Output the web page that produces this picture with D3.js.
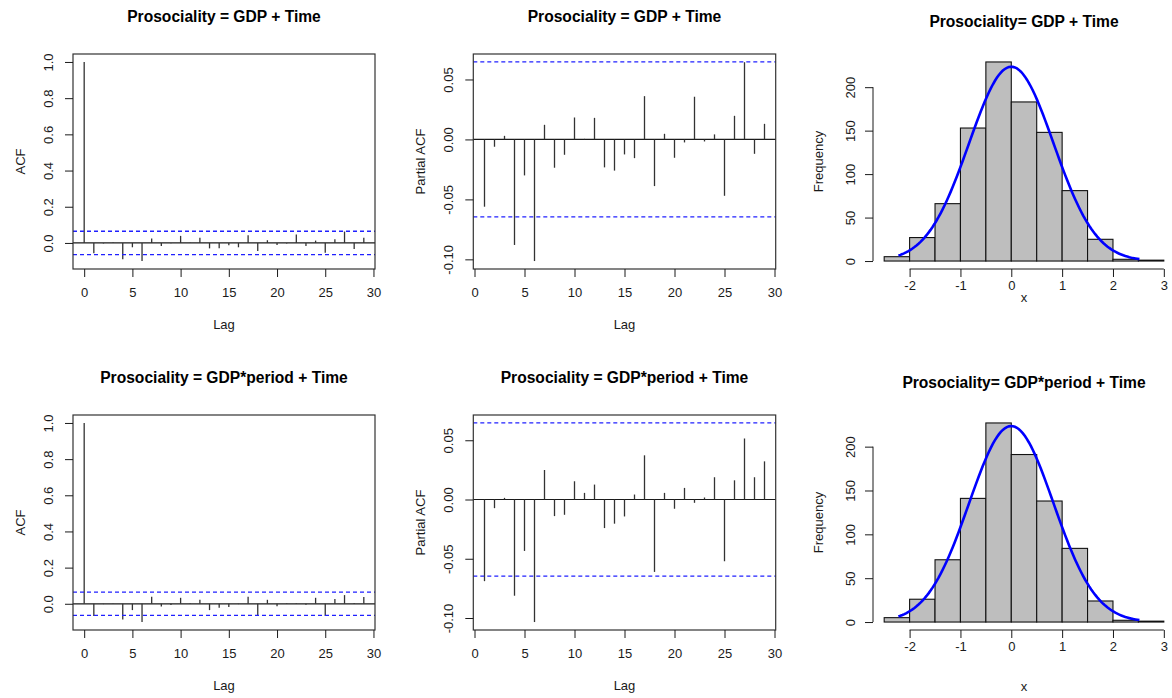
<!DOCTYPE html>
<html>
<head>
<meta charset="utf-8">
<script src="https://cdn.jsdelivr.net/npm/d3@7"></script>
<style>
  html, body { margin: 0; padding: 0; background: #fff; }
  svg { display: block; font-family: "Liberation Sans", Arial, sans-serif; }
</style>
</head>
<body>
<svg id="chart" width="1172" height="698"></svg>
<script>
// ---------------- DATA ----------------
const titlesTop = ["Prosociality = GDP + Time", "Prosociality = GDP + Time", "Prosociality= GDP + Time"];
const titlesBottom = ["Prosociality = GDP*period + Time", "Prosociality = GDP*period + Time", "Prosociality= GDP*period + Time"];

// ACF values, lags 0..29
const acfTop = [1, -0.057, -0.003, 0.003, -0.090, -0.024, -0.100, 0.024, -0.017, -0.002,
  0.039, 0.001, 0.028, -0.030, -0.030, -0.013, -0.024, 0.043, -0.044, 0.015,
  -0.011, -0.003, 0.046, -0.017, 0.013, -0.054, 0.020, 0.063, -0.033, 0.028];
const acfBottom = [1, -0.068, -0.002, 0.002, -0.087, -0.035, -0.101, 0.039, -0.015, -0.007,
  0.033, 0.003, 0.022, -0.035, -0.022, -0.018, -0.002, 0.039, -0.068, 0.022,
  -0.013, 0.003, 0.003, -0.005, 0.033, -0.068, 0.026, 0.048, 0.004, 0.037];

// Partial ACF values, lags 1..29
const pacfTop = [-0.0561, -0.0061, 0.0030, -0.0880, -0.0300, -0.1014, 0.0122, -0.0236, -0.0128, 0.0183,
  0.0005, 0.0180, -0.0233, -0.0260, -0.0125, -0.0156, 0.0361, -0.0389, 0.0047, -0.0153,
  -0.0025, 0.0356, -0.0017, 0.0042, -0.0470, 0.0197, 0.0644, -0.0120, 0.0130];
const pacfBottom = [-0.0689, -0.0073, 0.0014, -0.0812, -0.0434, -0.1034, 0.0249, -0.0140, -0.0129, 0.0154,
  0.0056, 0.0126, -0.0241, -0.0204, -0.0143, 0.0042, 0.0373, -0.0611, 0.0056, -0.0078,
  0.0098, -0.0028, 0.0017, 0.0188, -0.0521, 0.0162, 0.0515, 0.0188, 0.0322];

const confBound = 0.0646;

// Histogram of residuals
const histBreaks = [-2.5, -2, -1.5, -1, -0.5, 0, 0.5, 1, 1.5, 2, 2.5, 3];
const histCountsTop = [5, 27, 66, 153, 229, 183, 148, 81, 25, 2, 1];
const histCountsBottom = [5, 26, 71, 141, 227, 191, 138, 84, 24, 2, 1];
// fitted normal overlay parameters
const normMean = 0.0, normSd = 0.83, normN = 930, curveFrom = -2.22, curveTo = 2.52;

// Tick labels
const lagTicks = [0, 5, 10, 15, 20, 25, 30];
const acfTicks = [0, 0.2, 0.4, 0.6, 0.8, 1.0];
const pacfTicks = [-0.10, -0.05, 0.00, 0.05];
const histXTicks = [-2, -1, 0, 1, 2, 3];
const histYTicks = [0, 50, 100, 150, 200];

// ---------------- LAYOUT ----------------
const svg = d3.select("#chart");
const rows = [{ y0: 54, y1: 269 }, { y0: 415, y1: 630 }];
const cols = [{ x0: 73, x1: 375 }, { x0: 473.3, x1: 775.7 }, { x0: 873, x1: 1175 }];
const ink = "#1a1a1a";
const FS = 13;

const ext = ([a, b]) => [a - (b - a) * 0.04, b + (b - a) * 0.04];

function rotateLeftLabels(axisG, offset) {
  axisG.selectAll(".tick text")
    .attr("x", 0).attr("y", -offset).attr("dy", "0.35em")
    .attr("transform", "rotate(-90)")
    .attr("text-anchor", "middle");
}

function styleAxis(axisG) {
  axisG.selectAll("line").attr("stroke", ink).attr("stroke-width", 1);
  axisG.selectAll("text").attr("fill", ink).style("font-size", FS + "px")
    .style("font-family", "'Liberation Sans', Arial, sans-serif");
}

function drawCorr(values, startLag, box, title, yLabel, yTicks, yFmt) {
  const { x0, x1, y0, y1 } = box;
  const g = svg.append("g");
  const lags = values.map((v, i) => startLag + i);
  const x = d3.scaleLinear().domain(ext([lags[0], lags[lags.length - 1]])).range([x0, x1]);
  const yMin = Math.min(d3.min(values), -confBound);
  const yMax = Math.max(d3.max(values), confBound);
  const y = d3.scaleLinear().domain(ext([yMin, yMax])).range([y1, y0]);

  g.append("line").attr("x1", x0).attr("x2", x1).attr("y1", y(0)).attr("y2", y(0))
    .attr("stroke", ink).attr("stroke-width", 1.2);
  g.selectAll(".bar").data(values).enter().append("line")
    .attr("x1", (d, i) => x(lags[i])).attr("x2", (d, i) => x(lags[i]))
    .attr("y1", y(0)).attr("y2", d => y(d))
    .attr("stroke", "#333").attr("stroke-width", 1.3);
  [confBound, -confBound].forEach(c => {
    g.append("line").attr("x1", x0).attr("x2", x1).attr("y1", y(c)).attr("y2", y(c))
      .attr("stroke", "#2020ff").attr("stroke-width", 1.3).attr("stroke-dasharray", "4,3");
  });
  g.append("rect").attr("x", x0).attr("y", y0).attr("width", x1 - x0).attr("height", y1 - y0)
    .attr("fill", "none").attr("stroke", "#333").attr("stroke-width", 1.2);

  const xa = g.append("g").attr("transform", `translate(0,${y1})`)
    .call(d3.axisBottom(x).tickValues(lagTicks).tickSize(8).tickPadding(11).tickFormat(d3.format("d")));
  xa.select(".domain").remove();
  styleAxis(xa);
  const ya = g.append("g").attr("transform", `translate(${x0},0)`)
    .call(d3.axisLeft(y).tickValues(yTicks).tickSize(8).tickFormat(yFmt));
  ya.select(".domain").remove();
  styleAxis(ya);
  rotateLeftLabels(ya, 24.5);

  g.append("text").attr("x", (x0 + x1) / 2).attr("y", y1 + 55).attr("dy", "0.35em")
    .attr("text-anchor", "middle").attr("fill", ink).style("font-size", FS + "px").text("Lag");
  g.append("text").attr("transform", `translate(${x0 - 53},${(y0 + y1) / 2}) rotate(-90)`)
    .attr("dy", "0.35em").attr("text-anchor", "middle").attr("fill", ink)
    .style("font-size", FS + "px").text(yLabel);
  g.append("text").attr("x", (x0 + x1) / 2).attr("y", y0 - 37).attr("dy", "0.35em")
    .attr("text-anchor", "middle").attr("fill", "#000").style("font-size", "15.6px")
    .style("font-weight", "bold").text(title);
}

function drawHist(counts, box, title, xLabY) {
  const { x0, x1, y0, y1 } = box;
  const g = svg.append("g");
  const x = d3.scaleLinear().domain(ext([histBreaks[0], histBreaks[histBreaks.length - 1]])).range([x0, x1]);
  const y = d3.scaleLinear().domain(ext([0, d3.max(counts)])).range([y1, y0]);

  g.selectAll(".hb").data(counts).enter().append("rect")
    .attr("x", (d, i) => x(histBreaks[i]))
    .attr("width", (d, i) => x(histBreaks[i + 1]) - x(histBreaks[i]))
    .attr("y", d => y(d)).attr("height", d => y(0) - y(d))
    .attr("fill", "#bebebe").attr("stroke", "#111").attr("stroke-width", 1.1);

  const bw = histBreaks[1] - histBreaks[0];
  const nPts = 120;
  const pts = d3.range(nPts + 1).map(k => {
    const xv = curveFrom + (curveTo - curveFrom) * k / nPts;
    const dens = Math.exp(-0.5 * Math.pow((xv - normMean) / normSd, 2)) / (normSd * Math.sqrt(2 * Math.PI));
    return [xv, dens * normN * bw];
  });
  g.append("path").datum(pts)
    .attr("d", d3.line().x(d => x(d[0])).y(d => y(d[1])))
    .attr("fill", "none").attr("stroke", "#0000ff").attr("stroke-width", 2.6);

  const xa = g.append("g").attr("transform", `translate(0,${y1})`)
    .call(d3.axisBottom(x).tickValues(histXTicks).tickSize(8).tickPadding(3.5).tickFormat(d3.format("d")));
  xa.select(".domain").remove();
  xa.append("line").attr("x1", x(histXTicks[0])).attr("x2", x(histXTicks[histXTicks.length - 1]))
    .attr("stroke", ink).attr("stroke-width", 1.2);
  styleAxis(xa);
  xa.selectAll(".tick text").text(d => d < 0 ? "-" + Math.abs(d) : d);

  const ya = g.append("g").attr("transform", `translate(${x0},0)`)
    .call(d3.axisLeft(y).tickValues(histYTicks).tickSize(8).tickFormat(d3.format("d")));
  ya.select(".domain").remove();
  ya.append("line").attr("y1", y(histYTicks[0])).attr("y2", y(histYTicks[histYTicks.length - 1]))
    .attr("stroke", ink).attr("stroke-width", 1.2);
  styleAxis(ya);
  rotateLeftLabels(ya, 23);

  g.append("text").attr("x", (x0 + x1) / 2).attr("y", xLabY).attr("dy", "0.35em")
    .attr("text-anchor", "middle").attr("fill", ink).style("font-size", FS + "px").text("x");
  g.append("text").attr("transform", `translate(${x0 - 55},${(y0 + y1) / 2}) rotate(-90)`)
    .attr("dy", "0.35em").attr("text-anchor", "middle").attr("fill", ink)
    .style("font-size", FS + "px").text("Frequency");
  g.append("text").attr("x", (x0 + x1) / 2).attr("y", y0 - 32).attr("dy", "0.35em")
    .attr("text-anchor", "middle").attr("fill", "#000").style("font-size", "15.6px")
    .style("font-weight", "bold").text(title);
}

const fmt1 = d3.format(".1f");
const fmt2 = d => d3.format(".2f")(d).replace("−", "-");

const box = (r, c) => Object.assign({}, rows[r], cols[c]);

drawCorr(acfTop, 0, box(0, 0), titlesTop[0], "ACF", acfTicks, fmt1);
drawCorr(pacfTop, 1, box(0, 1), titlesTop[1], "Partial ACF", pacfTicks, fmt2);
drawHist(histCountsTop, box(0, 2), titlesTop[2], 297);
drawCorr(acfBottom, 0, box(1, 0), titlesBottom[0], "ACF", acfTicks, fmt1);
drawCorr(pacfBottom, 1, box(1, 1), titlesBottom[1], "Partial ACF", pacfTicks, fmt2);
drawHist(histCountsBottom, box(1, 2), titlesBottom[2], 686);
</script>
</body>
</html>
